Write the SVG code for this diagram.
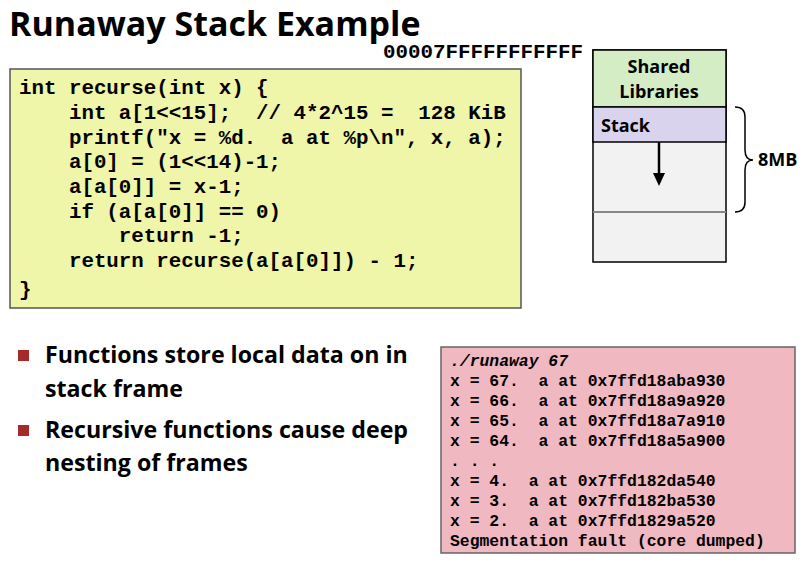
<svg xmlns="http://www.w3.org/2000/svg" width="801" height="561" viewBox="0 0 801 561">
<style>
.code{font-family:"Liberation Mono",monospace;font-weight:bold;font-size:20.8px;fill:#000;white-space:pre}
.out{font-family:"Liberation Mono",monospace;font-weight:bold;font-size:16.4px;fill:#000;white-space:pre}
.sans{font-family:"Open Sans","Liberation Sans",sans-serif;font-weight:bold;fill:#000}
</style>
<rect width="801" height="561" fill="#fff"/>
<text class="sans" x="9" y="36" font-size="34">Runaway Stack Example</text>
<g id="code">
<rect x="10" y="69" width="511" height="239" fill="#eff5a9" stroke="#555" stroke-width="1.5"/>
<text class="code" xml:space="preserve"><tspan x="19" y="94">int recurse(int x) {</tspan><tspan x="19" y="119">    int a[1&lt;&lt;15];  // 4*2^15 =  128 KiB</tspan><tspan x="19" y="144">    printf("x = %d.  a at %p\n", x, a);</tspan><tspan x="19" y="168">    a[0] = (1&lt;&lt;14)-1;</tspan><tspan x="19" y="193">    a[a[0]] = x-1;</tspan><tspan x="19" y="218">    if (a[a[0]] == 0)</tspan><tspan x="19" y="242">        return -1;</tspan><tspan x="19" y="267">    return recurse(a[a[0]]) - 1;</tspan><tspan x="19" y="296">}</tspan></text>
</g>
<g id="memory">
<text class="code" x="383" y="58" font-size="17" textLength="200" lengthAdjust="spacingAndGlyphs">00007FFFFFFFFFFF</text>
<rect x="593" y="50" width="133" height="212" fill="#f2f2f2" stroke="#000" stroke-width="1.5"/>
<rect x="593" y="50" width="133" height="57" fill="#d4edc5" stroke="#000" stroke-width="1.5"/>
<rect x="593" y="107" width="133" height="35" fill="#d9d3ed" stroke="#000" stroke-width="1.5"/>
<line x1="593" y1="212" x2="726" y2="212" stroke="#888" stroke-width="2"/>
<text class="sans" x="659" y="73" font-size="18" text-anchor="middle">Shared</text>
<text class="sans" x="659" y="98" font-size="18" text-anchor="middle">Libraries</text>
<text class="sans" x="601" y="132" font-size="18">Stack</text>
<path d="M735 107 Q745 107 745 117 L745 150 Q745 160 753 160 Q745 160 745 170 L745 202 Q745 212 735 212" fill="none" stroke="#000" stroke-width="1.5"/>
<text class="sans" x="758" y="166" font-size="18">8MB</text>
</g>
<g id="connectors">
<line x1="659" y1="142" x2="659" y2="175" stroke="#000" stroke-width="2.5"/>
<polygon points="653,173 665,173 659,186" fill="#000"/>
</g>
<g id="bullets">
<rect x="18" y="350" width="11" height="11" fill="#a52a2a"/>
<rect x="18" y="425" width="11" height="11" fill="#a52a2a"/>
<text class="sans" font-size="23.2"><tspan x="45" y="363">Functions store local data on in</tspan><tspan x="45" y="397">stack frame</tspan><tspan x="45" y="438">Recursive functions cause deep</tspan><tspan x="45" y="471">nesting of frames</tspan></text>
</g>
<g id="output">
<rect x="441" y="347" width="354" height="206" fill="#f0b8c0" stroke="#666" stroke-width="1.5"/>
<text class="out" xml:space="preserve"><tspan x="450" y="366" font-style="italic">./runaway 67</tspan><tspan x="450" y="386">x = 67.  a at 0x7ffd18aba930</tspan><tspan x="450" y="406">x = 66.  a at 0x7ffd18a9a920</tspan><tspan x="450" y="426">x = 65.  a at 0x7ffd18a7a910</tspan><tspan x="450" y="446">x = 64.  a at 0x7ffd18a5a900</tspan><tspan x="450" y="466">. . .</tspan><tspan x="450" y="486">x = 4.  a at 0x7ffd182da540</tspan><tspan x="450" y="506">x = 3.  a at 0x7ffd182ba530</tspan><tspan x="450" y="526">x = 2.  a at 0x7ffd1829a520</tspan><tspan x="450" y="546">Segmentation fault (core dumped)</tspan></text>
</g>
</svg>
